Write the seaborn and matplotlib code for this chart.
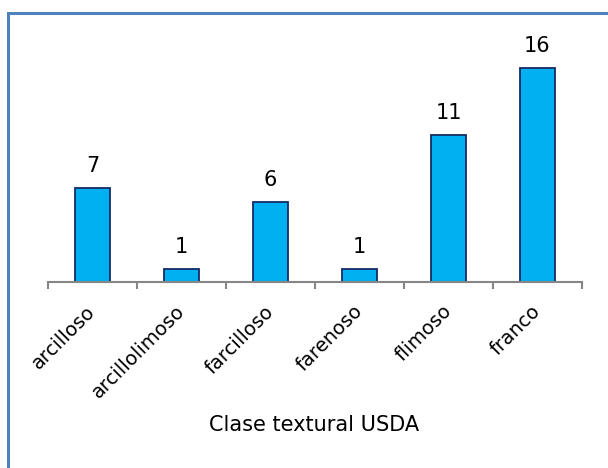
import matplotlib
matplotlib.use("Agg")
import matplotlib.pyplot as plt
import seaborn as sns
import pandas as pd
from matplotlib.patches import Rectangle

# Counts of samples per USDA texture class
clases = ["arcilloso", "arcillolimoso", "farcilloso", "farenoso", "flimoso", "franco"]
conteos = [7, 1, 6, 1, 11, 16]

df = pd.DataFrame({"clase": clases, "n": conteos})

sns.set_theme(style="white")
plt.rcParams["font.family"] = ["DejaVu Sans"]

fig = plt.figure(figsize=(6.08, 4.68), dpi=100)
ax = fig.add_axes([48 / 608, 1 - 282 / 468, (582 - 48) / 608, (282 - 41) / 468])

sns.barplot(data=df, x="clase", y="n", ax=ax, color="#00B0F0", width=0.4,
            edgecolor="#142B66", linewidth=1.3, saturation=1)

ax.set_xlim(-0.5, len(clases) - 0.5)
ax.set_ylim(0, 18)

# value labels above each bar
for i, v in enumerate(conteos):
    ax.annotate(str(v), (i, v), xytext=(0, 11.5), textcoords="offset points",
                ha="center", va="baseline", fontsize=15, color="#000000")

# category axis with tick marks at the category boundaries
for s in ["top", "right", "left"]:
    ax.spines[s].set_visible(False)
ax.spines["bottom"].set_color("#868686")
ax.spines["bottom"].set_linewidth(1.5)
ax.set_yticks([])
ax.set_ylabel("")
ax.set_xticks(range(len(clases)))
ax.set_xticklabels(clases, rotation=45, ha="right", va="center",
                   rotation_mode="anchor", fontsize=14, color="#000000")
ax.tick_params(axis="x", length=0, pad=19)
ax.set_xticks([x - 0.5 for x in range(len(clases) + 1)], minor=True)
ax.tick_params(axis="x", which="minor", bottom=True, length=5, width=1.5,
               color="#868686", direction="out")

ax.set_xlabel("Clase textural USDA", fontsize=15, color="#000000")
ax.xaxis.set_label_coords((314 - 48) / (582 - 48), -(425 - 282) / (282 - 41))
ax.xaxis.label.set_va("center")

# chart frame
fig.patches.append(Rectangle((7.5 / 608, -0.1), 1.2, 1 - 13.5 / 468 + 0.1,
                             transform=fig.transFigure, fill=False,
                             edgecolor="#4F81BD", linewidth=2.2, zorder=0))

fig.savefig("out.png", dpi=100, facecolor="white")
